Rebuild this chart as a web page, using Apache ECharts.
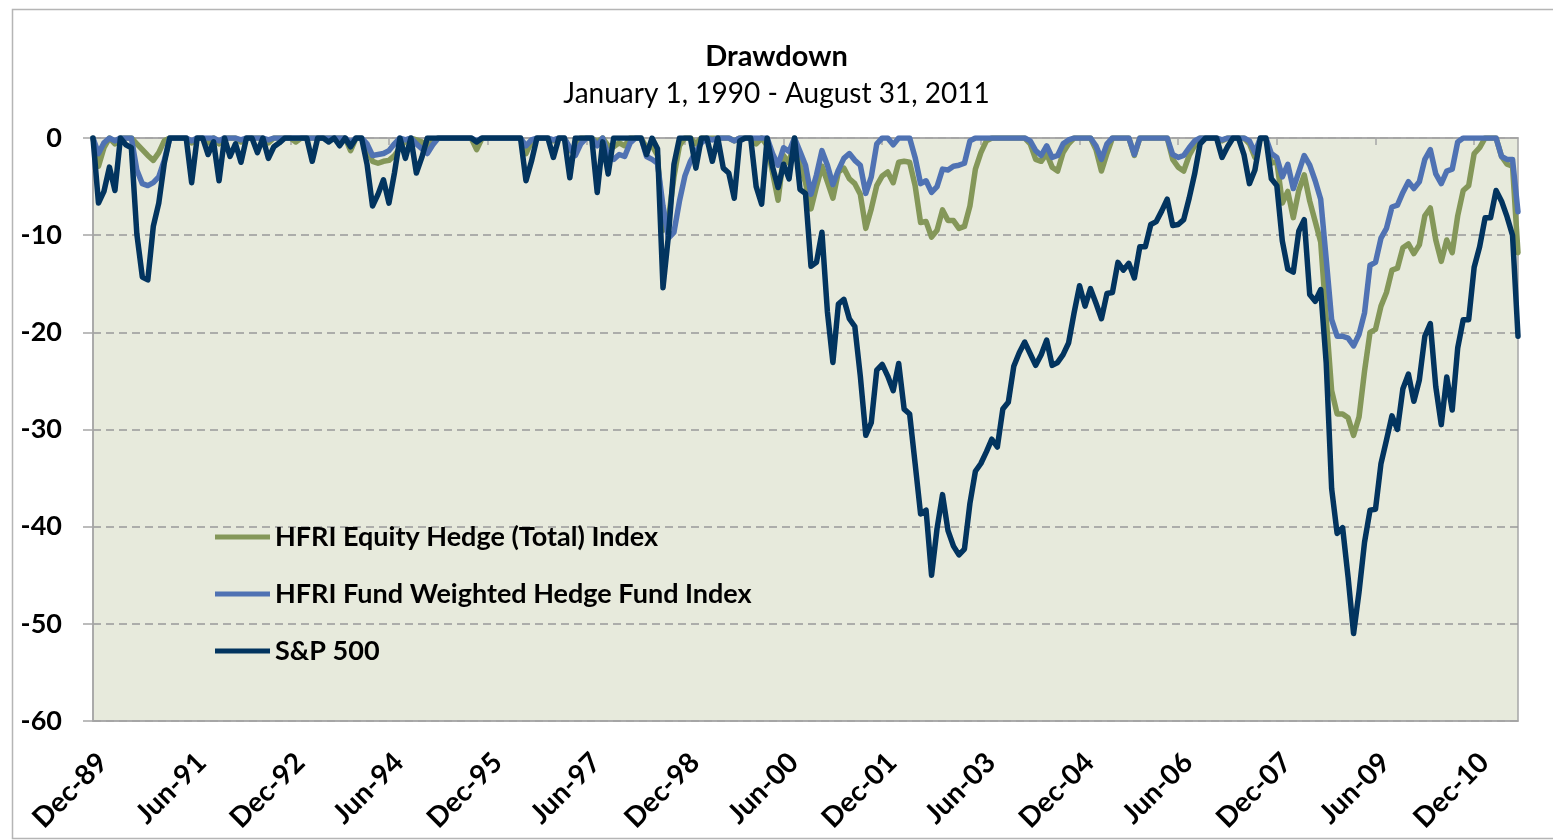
<!DOCTYPE html>
<html><head><meta charset="utf-8">
<script src="https://cdn.jsdelivr.net/npm/echarts@6/dist/echarts.min.js"></script>
<style>html,body{margin:0;padding:0;background:#fff}#c{width:1553px;height:840px}</style>
</head><body><div id="c"></div>
<script>
// Monthly drawdown (%) from Dec-89 to Aug-11
const startYear = 1989, startMonth = 11;
const monthNames = ['Jan','Feb','Mar','Apr','May','Jun','Jul','Aug','Sep','Oct','Nov','Dec'];
const seriesNames = ['HFRI Equity Hedge (Total) Index','HFRI Fund Weighted Hedge Fund Index','S&P 500'];
const tickLabels = ['Dec-89','Jun-91','Dec-92','Jun-94','Dec-95','Jun-97','Dec-98','Jun-00','Dec-01','Jun-03','Dec-04','Jun-06','Dec-07','Jun-09','Dec-10'];
const yTicks = [0,-10,-20,-30,-40,-50,-60];

const equityHedge = [0,
 -2.9,-1.0,0,-0.6,0,0,0,-0.6,-1.2,-1.8,-2.3,-1.5,
 -0.3,0,0,0,0,-0.5,0,0,-0.5,0,-0.6,0,
 0,0,-0.4,0,0,0,0,-0.5,0,0,0,0,
 -0.4,0,0,0,0,0,0,0,0,0,-1.3,0,
 0,-1.0,-2.4,-2.6,-2.4,-2.3,-1.8,-1.0,-0.3,0,-0.2,-0.4,
 -1.2,-0.3,0,0,0,0,0,0,0,-1.2,0,0,
 0,0,0,0,0,0,-1.6,-0.4,0,0,0,-0.3,
 0,0,-1.3,-1.0,0,0,0,-0.4,0,-0.8,-0.9,-0.5,
 -0.8,0,0,0,-1.0,-0.8,-1.8,-9.5,-8.3,-4.0,-0.8,0,
 0,-0.6,0,0,0,0,0,0,-0.3,0,0,0,
 -0.6,0,-0.8,-3.6,-6.4,-1.8,-2.6,0,-2.8,-4.6,-7.3,-5.0,
 -2.9,-4.5,-6.2,-3.5,-3.1,-4.2,-4.7,-5.8,-9.3,-7.3,-4.9,-3.9,
 -3.5,-4.6,-2.5,-2.4,-2.5,-4.9,-8.7,-8.6,-10.2,-9.5,-7.4,-8.5,
 -8.5,-9.3,-9.1,-7.0,-3.2,-1.5,-0.3,0,0,0,0,0,
 0,0,-0.6,-2.2,-2.4,-1.6,-3.0,-3.4,-1.5,-0.6,0,0,
 0,0,-1.2,-3.4,-1.6,0,0,0,0,-1.8,0,0,
 0,0,0,0,-2.2,-3.0,-3.4,-1.8,-0.8,0,0,0,
 0,-0.3,0,0,0,0,-0.6,-2.0,0,0,-2.6,-2.4,
 -6.7,-5.5,-8.2,-5.4,-3.8,-6.5,-8.6,-10.7,-18.5,-26.0,-28.4,-28.4,
 -28.8,-30.6,-28.7,-24.0,-20.0,-19.7,-17.3,-15.9,-13.6,-13.4,-11.3,-10.9,
 -11.9,-11.0,-8.0,-7.2,-10.5,-12.7,-10.5,-11.8,-8.0,-5.4,-4.9,-1.6,
 -1.0,0,0,0,-1.9,-2.7,-2.9,-11.8];

const fundWeighted = [0,
 -1.6,-0.5,0,-0.3,0,0,0,-3.3,-4.7,-4.9,-4.6,-4.0,
 -2.3,0,0,0,0,-0.3,0,0,0,0,-0.3,0,
 0,0,-0.2,0,0,0,0,-0.2,0,0,0,0,
 0,0,0,0,0,0,0,0,0,0,-0.4,0,
 0,-0.6,-1.8,-1.7,-1.6,-1.3,-0.6,0,-0.2,0,-0.6,-1.1,
 -1.6,-0.7,0,0,0,0,0,0,0,-0.3,0,0,
 0,0,0,0,0,0,-0.8,-0.2,0,0,0,-0.2,
 0,0,-1.0,-1.8,-0.6,0,0,-0.8,0,-1.8,-2.2,-1.7,
 -1.9,-0.5,0,0,-1.9,-2.2,-2.6,-7.0,-10.3,-9.7,-6.5,-3.9,
 -2.4,-1.4,-0.5,0,-0.2,0,0,0,-0.3,0,0,0,
 0,0,0,-1.6,-2.8,-1.0,-1.4,0,-1.4,-2.8,-5.8,-3.8,
 -1.3,-2.8,-4.8,-3.3,-2.1,-1.6,-2.3,-2.8,-5.7,-4.0,-0.6,0,
 0,-0.7,0,0,0,-2.0,-4.7,-4.4,-5.6,-5.0,-3.2,-3.3,
 -2.9,-2.8,-2.6,-0.3,0,0,0,0,0,0,0,0,
 0,0,-0.3,-1.3,-1.8,-0.8,-2.0,-1.8,-0.6,-0.2,0,0,
 0,0,-0.8,-2.2,-0.6,0,0,0,0,-1.7,0,0,
 0,0,0,0,-1.7,-2.0,-1.8,-1.0,-0.3,0,0,0,
 0,-0.2,0,0,0,0,-0.3,-1.5,0,0,-1.6,-2.0,
 -4.0,-2.7,-5.2,-3.5,-1.8,-2.8,-4.4,-6.3,-12.4,-18.7,-20.4,-20.4,
 -20.6,-21.4,-20.2,-18.0,-13.1,-12.8,-10.3,-9.3,-7.1,-6.9,-5.6,-4.5,
 -5.2,-4.5,-2.2,-1.2,-3.7,-4.7,-3.4,-3.2,-0.4,0,0,0,
 0,0,0,0,-1.9,-2.2,-2.2,-7.6];

const sp500 = [0,
 -6.7,-5.5,-3.0,-5.4,0,-0.7,-1.0,-9.9,-14.3,-14.6,-9.1,-6.7,
 -2.6,0,0,0,0,-4.6,0,0,-1.7,-0.4,-4.4,0,
 -1.9,-0.6,-2.5,0,0,-1.5,0,-2.1,-0.9,-0.5,0,0,
 0,0,0,-2.4,0,0,-0.4,0,-0.8,0,-0.9,0,
 0,-2.7,-7.0,-5.8,-4.3,-6.7,-3.6,0,-2.1,0,-3.6,-2.0,
 0,0,0,0,0,0,0,0,0,-0.4,0,0,
 0,0,0,0,0,0,-4.4,-2.4,0,0,0,-2.0,
 0,0,-4.1,0,0,0,0,-5.6,-0.4,-3.7,0,0,
 0,0,0,0,-1.7,0,-1.1,-15.4,-10.0,-2.7,0,0,
 0,-3.1,0,0,-2.4,0,-3.1,-3.6,-6.2,-0.3,0,0,
 -5.0,-6.8,0,-3.0,-5.1,-2.7,-4.2,0,-5.3,-5.7,-13.2,-12.8,
 -9.7,-17.9,-23.1,-17.1,-16.6,-18.6,-19.4,-24.5,-30.6,-29.3,-23.9,-23.3,
 -24.5,-26.0,-23.2,-27.9,-28.4,-33.5,-38.7,-38.3,-45.0,-40.2,-36.7,-40.4,
 -42.0,-42.9,-42.3,-37.6,-34.3,-33.5,-32.3,-31.0,-31.8,-27.9,-27.2,-23.5,
 -22.1,-21.0,-22.2,-23.4,-22.3,-20.8,-23.4,-23.1,-22.3,-21.1,-18.0,-15.2,
 -17.3,-15.5,-17.0,-18.6,-16.0,-15.9,-12.8,-13.6,-12.9,-14.4,-11.2,-11.2,
 -8.9,-8.6,-7.5,-6.3,-9.0,-8.9,-8.4,-6.2,-3.7,-0.6,0,0,
 0,-2.0,-0.9,0,0,-1.7,-4.7,-3.3,0,0,-4.2,-4.9,
 -10.6,-13.5,-13.8,-9.6,-8.4,-16.1,-16.8,-15.6,-23.1,-36.1,-40.7,-40.1,
 -45.2,-51.0,-46.7,-41.6,-38.3,-38.2,-33.5,-31.1,-28.6,-30.0,-25.8,-24.3,
 -27.1,-24.9,-20.4,-19.1,-25.6,-29.5,-24.6,-28.0,-21.6,-18.7,-18.7,-13.3,
 -11.2,-8.2,-8.2,-5.4,-6.5,-8.1,-10.0,-20.4];

const months = [];
for (let k = 0; k < sp500.length; k++) {
  const m = (startMonth + k) % 12;
  const y = startYear + Math.floor((startMonth + k) / 12);
  months.push(monthNames[m] + '-' + String(y % 100).padStart(2, '0'));
}

const FONT = 'Lato, "Liberation Sans", sans-serif';
const colors = ['#849759', '#4F72B3', '#02345F'];
const gray = '#A6A6A6';

const chart = echarts.init(document.getElementById('c'), null, {renderer: 'canvas'});
chart.setOption({
  animation: false,
  backgroundColor: '#ffffff',
  graphic: [{
    type: 'rect', left: 10, top: 7, z: -10, silent: true,
    shape: {width: 1560, height: 829},
    style: {fill: 'none', stroke: '#B5B5B5', lineWidth: 1.5}
  }],
  title: {
    text: 'Drawdown',
    subtext: 'January 1, 1990 - August 31, 2011',
    left: 'center', top: 37, itemGap: 9,
    textStyle: {fontFamily: FONT, fontWeight: 'bold', fontSize: 29, color: '#000'},
    subtextStyle: {fontFamily: FONT, fontSize: 28, color: '#000'}
  },
  legend: {
    data: seriesNames,
    orient: 'vertical', left: 210, top: 517,
    icon: 'rect', itemWidth: 55, itemHeight: 5, itemGap: 27,
    textStyle: {fontFamily: FONT, fontWeight: 'bold', fontSize: 27, color: '#000', lineHeight: 30}
  },
  grid: {
    left: 93, right: 35, top: 138, bottom: 119,
    show: true, backgroundColor: '#E7EADC', borderColor: gray, borderWidth: 1.5
  },
  xAxis: [{
    type: 'category', data: months, boundaryGap: false, position: 'bottom',
    axisLine: {onZero: false, lineStyle: {color: gray, width: 1.5}},
    axisTick: {show: false},
    axisLabel: {
      interval: 17, rotate: 45, margin: 27, verticalAlign: 'top',
      fontFamily: FONT, fontWeight: 'bold', fontSize: 28, color: '#000',
      formatter: v => tickLabels.includes(v) ? v : ''
    },
    splitLine: {show: false}
  }, {
    type: 'category', data: months, boundaryGap: false, position: 'top',
    axisLine: {onZero: false, lineStyle: {color: gray, width: 1.5}},
    axisTick: {show: true, interval: 17, inside: true, length: 7, lineStyle: {color: gray, width: 1.5}},
    axisLabel: {show: false},
    splitLine: {show: false}
  }],
  yAxis: {
    type: 'value', min: -60, max: 0, interval: 10,
    axisLine: {show: true, lineStyle: {color: gray, width: 1.5}},
    axisTick: {show: true, length: 10, lineStyle: {color: gray, width: 1.5}},
    axisLabel: {
      margin: 31, fontFamily: FONT, fontWeight: 'bold', fontSize: 27, color: '#000',
      formatter: v => yTicks.includes(v) ? String(v) : ''
    },
    splitLine: {show: true, lineStyle: {color: '#999999', width: 1.5, type: [8, 5]}}
  },
  series: [
    {name: seriesNames[0], data: equityHedge},
    {name: seriesNames[1], data: fundWeighted},
    {name: seriesNames[2], data: sp500}
  ].map((s, idx) => ({
    name: s.name, type: 'line', data: s.data, xAxisIndex: 0,
    showSymbol: false, symbol: 'none', smooth: false,
    color: colors[idx],
    lineStyle: {color: colors[idx], width: 5.5, join: 'round', cap: 'round'},
    z: 2 + idx
  }))
});
</script>
</body></html>
